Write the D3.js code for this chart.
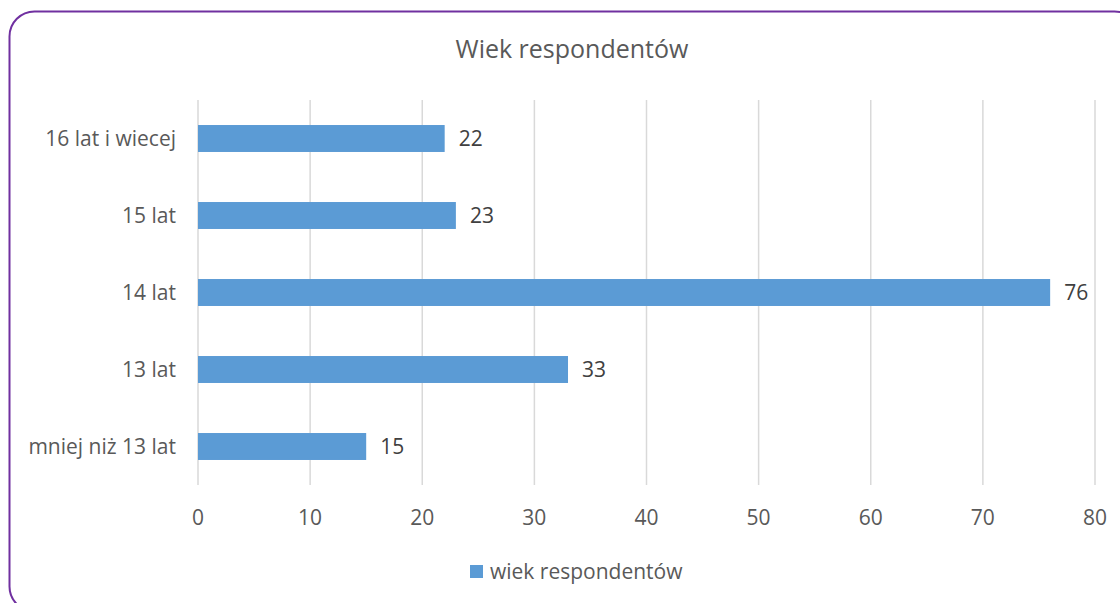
<!DOCTYPE html>
<html>
<head>
<meta charset="utf-8">
<script src="https://cdn.jsdelivr.net/npm/d3@7"></script>
<style>
html,body{margin:0;padding:0;background:#fff;}
svg{display:block;font-family:"Open Sans",sans-serif;}
</style>
</head>
<body>
<svg id="chart" width="1120" height="603"></svg>
<script>
const title = "Wiek respondentów";
const seriesName = "wiek respondentów";
const categories = ["16 lat i wiecej", "15 lat", "14 lat", "13 lat", "mniej niż 13 lat"];
const values = [22, 23, 76, 33, 15];
const xTicks = [0, 10, 20, 30, 40, 50, 60, 70, 80];

const svg = d3.select("#chart");
const color = "#5B9BD5";
const textColor = "#595959";

// frame
svg.append("rect")
  .attr("x", 9.5).attr("y", 11.5)
  .attr("width", 1130).attr("height", 600)
  .attr("rx", 25).attr("ry", 25)
  .attr("fill", "#fff").attr("stroke", "#7030A0").attr("stroke-width", 2);

const m = {left: 198, right: 1095, top: 100, bottom: 485};
const x = d3.scaleLinear().domain([0, 80]).range([m.left, m.right]);
const y = d3.scaleBand().domain(categories).range([m.top, m.bottom]).paddingInner(0.65).paddingOuter(0.325);

// gridlines
svg.append("g").selectAll("line").data(xTicks).join("line")
  .attr("x1", d => x(d)).attr("x2", d => x(d))
  .attr("y1", m.top).attr("y2", m.bottom)
  .attr("stroke", "#D9D9D9").attr("stroke-width", 1.5);

// x tick labels
svg.append("g").selectAll("text").data(xTicks).join("text")
  .attr("x", d => x(d)).attr("y", 525)
  .attr("text-anchor", "middle")
  .attr("fill", textColor).attr("font-size", 21)
  .text(d => d);

// bars
svg.append("g").selectAll("rect").data(values).join("rect")
  .attr("x", x(0))
  .attr("y", (d, i) => y(categories[i]))
  .attr("width", d => x(d) - x(0))
  .attr("height", y.bandwidth())
  .attr("fill", color);

// value labels
svg.append("g").selectAll("text").data(values).join("text")
  .attr("x", d => x(d) + 14)
  .attr("y", (d, i) => y(categories[i]) + y.bandwidth() / 2)
  .attr("dy", "0.35em")
  .attr("fill", "#404040").attr("font-size", 21)
  .text(d => d);

// category labels
svg.append("g").selectAll("text").data(categories).join("text")
  .attr("x", 176)
  .attr("y", d => y(d) + y.bandwidth() / 2)
  .attr("dy", "0.35em")
  .attr("text-anchor", "end")
  .attr("fill", textColor).attr("font-size", 21)
  .text(d => d);

// title
svg.append("text")
  .attr("x", 572).attr("y", 58)
  .attr("text-anchor", "middle")
  .attr("fill", textColor).attr("font-size", 25)
  .text(title);

// legend
const lg = svg.append("g");
lg.append("rect").attr("x", 470).attr("y", 565).attr("width", 13).attr("height", 13).attr("fill", color);
lg.append("text").attr("x", 490).attr("y", 572).attr("dy", "0.35em")
  .attr("fill", textColor).attr("font-size", 21).text(seriesName);
</script>
</body>
</html>
